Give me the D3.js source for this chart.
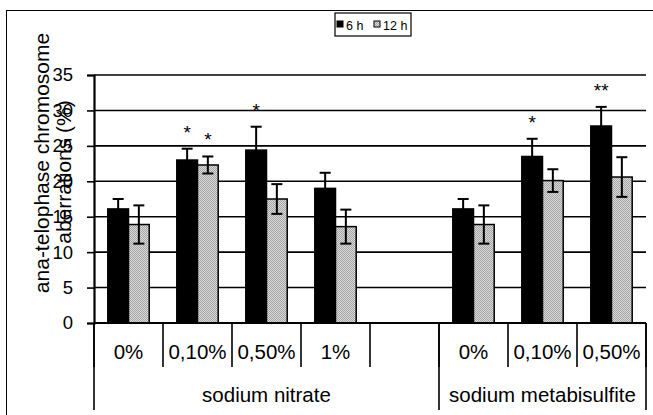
<!DOCTYPE html>
<html>
<head>
<meta charset="utf-8">
<script src="https://cdn.jsdelivr.net/npm/d3@7"></script>
<style>
  body { margin: 0; background: #fff; }
  text { font-family: "Liberation Sans", Arial, sans-serif; fill: #000; }
</style>
</head>
<body>
<div id="chart"></div>
<script>
// data
const doses = ['0%', '0,10%', '0,50%', '1%', '', '0%', '0,10%', '0,50%']
const compounds = ['sodium nitrate', 'sodium metabisulfite']
const compoundSpan = [5, 3]
const series = ['6 h', '12 h']
const values6h = [16.1, 23.0, 24.4, 19.0, null, 16.1, 23.5, 27.8]
const err6h = [1.4, 1.6, 3.3, 2.2, null, 1.4, 2.5, 2.7]
const values12h = [13.9, 22.3, 17.5, 13.6, null, 13.9, 20.1, 20.6]
const err12h = [2.7, 1.2, 2.1, 2.4, null, 2.7, 1.6, 2.8]
const stars6h = ['', '*', '*', '', '', '', '*', '**']
const stars12h = ['', '*', '', '', '', '', '', '']
const yTicks = [0, 5, 10, 15, 20, 25, 30, 35]

const width = 653, height = 415
const margin = { top: 75, right: 7, bottom: 92, left: 94 }

const svg = d3.select('#chart').append('svg')
  .attr('width', width).attr('height', height)

// dotted grey fill of the 12 h bars
const pat = svg.append('defs').append('pattern')
  .attr('id', 'dots').attr('width', 2).attr('height', 2)
  .attr('patternUnits', 'userSpaceOnUse')
pat.append('rect').attr('width', 2).attr('height', 2).attr('fill', '#dadada')
pat.append('rect').attr('width', 1).attr('height', 1).attr('fill', '#a4a4a4')
pat.append('rect').attr('x', 1).attr('y', 1).attr('width', 1).attr('height', 1).attr('fill', '#a4a4a4')

// outer frame
svg.append('rect')
  .attr('x', 6.5).attr('y', 10.5).attr('width', 700).attr('height', 500)
  .attr('fill', 'none').attr('stroke', '#000').attr('stroke-width', 1)

const ids = doses.map((d, i) => i)
const x = d3.scaleBand().domain(ids).range([margin.left, width - margin.right]).padding(0)
const x1 = d3.scaleBand().domain(series).range([x.bandwidth() * 0.2, x.bandwidth() * 0.8])
const y = d3.scaleLinear().domain([0, 35]).range([height - margin.bottom, margin.top])

// gridlines
svg.append('g').selectAll('line')
  .data(yTicks.filter(d => d > 0))
  .join('line')
  .attr('x1', margin.left).attr('x2', width - margin.right)
  .attr('y1', d => y(d)).attr('y2', d => y(d))
  .attr('stroke', '#000').attr('stroke-width', 1.6)

// y axis
const yAxis = svg.append('g')
  .attr('transform', `translate(${margin.left},0)`)
  .call(d3.axisLeft(y).tickValues(yTicks).tickSize(7).tickPadding(14))
yAxis.select('.domain').attr('stroke-width', 2.2)
yAxis.selectAll('.tick line').attr('stroke-width', 1.6)
yAxis.selectAll('text').attr('font-size', 18.5).style('font-family', '"Liberation Sans", Arial, sans-serif')

// y label
const yLab = svg.append('g')
yLab.append('text')
  .attr('transform', 'translate(49,163) rotate(-90)')
  .attr('text-anchor', 'middle').attr('font-size', 21)
  .text('ana-telophase chromosome')
yLab.append('text')
  .attr('transform', 'translate(71,172) rotate(-90)')
  .attr('text-anchor', 'middle').attr('font-size', 21)
  .text('aberrations (%)')

// bars
const rows = ids.filter(i => values6h[i] != null).flatMap(i => [
  { i, s: '6 h', v: values6h[i], e: err6h[i], star: stars6h[i] },
  { i, s: '12 h', v: values12h[i], e: err12h[i], star: stars12h[i] }
])

const bars = svg.append('g')
bars.selectAll('rect')
  .data(rows)
  .join('rect')
  .attr('x', d => x(d.i) + x1(d.s))
  .attr('y', d => y(d.v))
  .attr('width', x1.bandwidth())
  .attr('height', d => y(0) - y(d.v))
  .attr('fill', d => d.s === '6 h' ? '#000' : 'url(#dots)')
  .attr('stroke', '#000').attr('stroke-width', 1.5)

// error bars
const cx = d => x(d.i) + x1(d.s) + x1.bandwidth() / 2
const eb = svg.append('g').attr('stroke', '#000').attr('stroke-width', 2)
eb.selectAll('.stem').data(rows).join('line')
  .attr('x1', cx).attr('x2', cx)
  .attr('y1', d => y(d.v - d.e)).attr('y2', d => y(d.v + d.e))
eb.selectAll('.capTop').data(rows).join('line')
  .attr('x1', d => cx(d) - 5.5).attr('x2', d => cx(d) + 5.5)
  .attr('y1', d => y(d.v + d.e)).attr('y2', d => y(d.v + d.e))
eb.selectAll('.capBot').data(rows).join('line')
  .attr('x1', d => cx(d) - 5.5).attr('x2', d => cx(d) + 5.5)
  .attr('y1', d => y(d.v - d.e)).attr('y2', d => y(d.v - d.e))

// significance stars
svg.append('g').selectAll('text')
  .data(rows.filter(d => d.star))
  .join('text')
  .attr('x', cx)
  .attr('y', d => y(d.v + d.e) - 10)
  .attr('text-anchor', 'middle').attr('font-size', 19)
  .text(d => d.star)

// x axis line
svg.append('line')
  .attr('x1', margin.left).attr('x2', width - margin.right)
  .attr('y1', y(0)).attr('y2', y(0))
  .attr('stroke', '#000').attr('stroke-width', 2.2)

// category dividers (first row)
const xEnd = width - margin.right
const bounds = ids.map(i => x(i)).concat([xEnd])
svg.append('g').selectAll('line')
  .data(bounds)
  .join('line')
  .attr('x1', d => d).attr('x2', d => d)
  .attr('y1', y(0)).attr('y2', y(0) + 44)
  .attr('stroke', '#000').attr('stroke-width', 1.6)

svg.append('g').selectAll('text')
  .data(ids)
  .join('text')
  .attr('x', i => x(i) + x.bandwidth() / 2)
  .attr('y', y(0) + 36)
  .attr('text-anchor', 'middle').attr('font-size', 20.5)
  .text(i => doses[i])

// compound groups (second row)
let start = 0
const groups = compounds.map((c, k) => {
  const g = { name: c, x0: x(start), x1: start + compoundSpan[k] < ids.length ? x(start + compoundSpan[k]) : xEnd }
  start += compoundSpan[k]
  return g
})
svg.append('g').selectAll('line')
  .data([groups[0].x0].concat(groups.map(g => g.x1)))
  .join('line')
  .attr('x1', d => d).attr('x2', d => d)
  .attr('y1', y(0)).attr('y2', y(0) + 87)
  .attr('stroke', '#000').attr('stroke-width', 1.6)
svg.append('g').selectAll('text')
  .data(groups)
  .join('text')
  .attr('x', g => (g.x0 + g.x1) / 2)
  .attr('y', y(0) + 79)
  .attr('text-anchor', 'middle').attr('font-size', 20.5)
  .text(g => g.name)

// legend
const lg = svg.append('g').attr('transform', 'translate(335,13)')
lg.append('rect').attr('width', 76).attr('height', 23)
  .attr('fill', '#fff').attr('stroke', '#000').attr('stroke-width', 1.2)
const items = lg.selectAll('.item').data(series).join('g')
  .attr('transform', (d, i) => `translate(${[2, 39][i]},0)`)
items.append('rect')
  .attr('y', 8).attr('width', 6).attr('height', 6)
  .attr('fill', (d, i) => i === 0 ? '#000' : 'url(#dots)')
  .attr('stroke', '#000').attr('stroke-width', 1)
items.append('text')
  .attr('x', 9).attr('y', 16.5)
  .attr('font-size', 12.5)
  .text(d => d)
</script>
</body>
</html>
